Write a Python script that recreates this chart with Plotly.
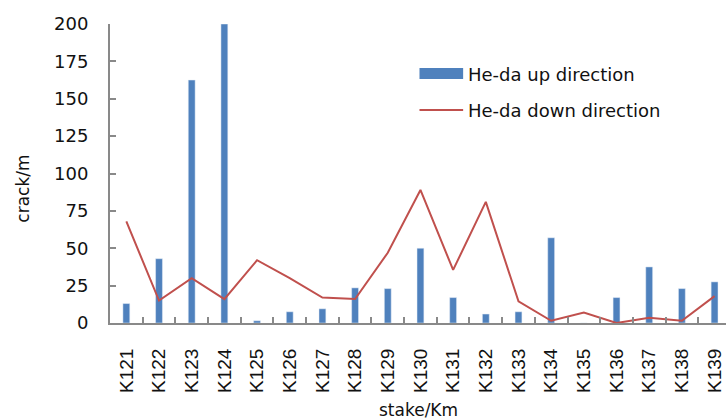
import plotly.graph_objects as go

stakes = ["K121", "K122", "K123", "K124", "K125", "K126", "K127", "K128", "K129", "K130",
          "K131", "K132", "K133", "K134", "K135", "K136", "K137", "K138", "K139"]
up_direction = [13, 43, 162.5, 200, 1.5, 7.5, 9.5, 23.5, 23, 50,
                17, 6, 7.5, 57, 0, 17, 37.5, 23, 27.5]
down_direction = [68, 15, 30, 16, 42, 30, 17, 16, 47, 89,
                  35.5, 81, 14.5, 1.5, 7, 0, 3.5, 1.5, 18]
y_ticks = [0, 25, 50, 75, 100, 125, 150, 175, 200]

BLUE = "#4F81BD"
RED = "#C0504D"
AXIS = "#898989"
TEXT = "#111111"
FONT = "DejaVu Sans"

fig = go.Figure()
fig.add_trace(go.Bar(x=stakes, y=up_direction, marker_color=BLUE, width=0.21,
                     name="He-da up direction", showlegend=False))
fig.add_trace(go.Scatter(x=stakes, y=down_direction, mode="lines",
                         line=dict(color=RED, width=2),
                         name="He-da down direction", showlegend=False))

# Legend drawn by hand: wide colour swatch and a short line
fig.add_shape(type="rect", xref="paper", yref="paper",
              x0=(422 - 110) / 621, x1=(466 - 110) / 621,
              y0=(323 - 79) / 299, y1=(323 - 68) / 299,
              fillcolor=BLUE, line=dict(width=0))
fig.add_shape(type="line", xref="paper", yref="paper",
              x0=(422 - 110) / 621, x1=(466 - 110) / 621,
              y0=(323 - 110) / 299, y1=(323 - 110) / 299,
              line=dict(color=RED, width=2))
fig.add_annotation(text="He-da up direction", xref="paper", yref="paper",
                   x=(469 - 110) / 621, y=(323 - 74) / 299,
                   xanchor="left", yanchor="middle", showarrow=False,
                   font=dict(family=FONT, size=18, color=TEXT))
fig.add_annotation(text="He-da down direction", xref="paper", yref="paper",
                   x=(469 - 110) / 621, y=(323 - 110) / 299,
                   xanchor="left", yanchor="middle", showarrow=False,
                   font=dict(family=FONT, size=18, color=TEXT))

# Axis titles
fig.add_annotation(text="stake/Km", xref="paper", yref="paper",
                   x=0.5, y=(323 - 410) / 299,
                   xanchor="center", yanchor="middle", showarrow=False,
                   font=dict(family=FONT, size=17, color=TEXT))
fig.add_annotation(text="crack/m", xref="paper", yref="paper",
                   x=(22 - 110) / 621, y=(323 - 189) / 299, textangle=-90,
                   xanchor="center", yanchor="middle", showarrow=False,
                   font=dict(family=FONT, size=17, color=TEXT))

fig.update_layout(
    width=726, height=419,
    margin=dict(l=110, r=0, t=24, b=96),
    paper_bgcolor="white", plot_bgcolor="white",
    font=dict(family=FONT, size=16, color=TEXT),
    xaxis=dict(
        type="category", range=[-0.5, 18.35],
        showline=True, linecolor=AXIS, linewidth=2,
        ticks="inside", tickson="boundaries", ticklen=6, tickcolor=AXIS, tickwidth=1.5,
        tickangle=-90, tickfont=dict(family="Liberation Sans", size=19),
        ticklabelstandoff=16, showgrid=False, zeroline=False,
    ),
    yaxis=dict(
        range=[0, 200], tickvals=y_ticks,
        showline=True, linecolor=AXIS, linewidth=2,
        ticks="inside", ticklen=6, tickcolor=AXIS, tickwidth=1.5,
        tickfont=dict(size=18), ticklabelstandoff=16,
        showgrid=False, zeroline=False,
    ),
)

fig.write_html("out.html")
